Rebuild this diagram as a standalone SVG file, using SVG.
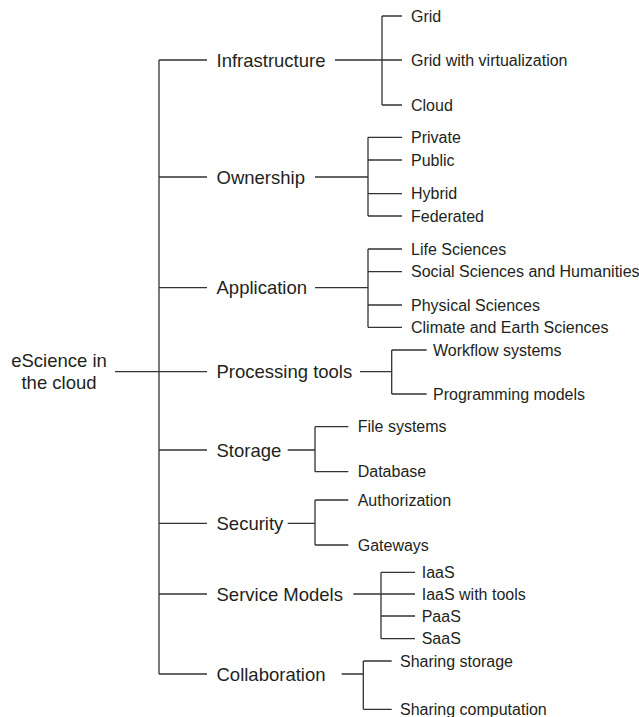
<svg xmlns="http://www.w3.org/2000/svg" width="639" height="717" viewBox="0 0 639 717">
  <style>
    text { font-family: "Liberation Sans", Arial, Helvetica, sans-serif; fill: #231f20; }
    .root { font-size: 18.5px; text-anchor: middle; }
    .cat { font-size: 18.5px; }
    .leaf { font-size: 16px; }
    .edge { fill: none; stroke: #333; stroke-width: 1.3; }
  </style>
  <rect width="639" height="717" fill="#fff"/>

  <!-- connectors -->
  <g id="connectors" class="edge">
    <!-- root to trunk -->
    <path d="M115,371.7 H159"/>
    <!-- trunk and category stubs -->
    <path d="M159,60 V674"/>
    <path d="M159,60 H207 M159,177 H207 M159,287.7 H207 M159,371.7 H207 M159,450 H207 M159,523.3 H207 M159,594 H207 M159,674 H207"/>
    <!-- Infrastructure -->
    <path d="M335,60 H402 M382,16 V105 M382,16 H402 M382,105 H402"/>
    <!-- Ownership -->
    <path d="M315,177 H368 M368,137.3 V216 M368,137.3 H402 M368,160 H402 M368,193.7 H402 M368,216 H402"/>
    <!-- Application -->
    <path d="M315,287.7 H368 M368,249 V327.3 M368,249 H402 M368,271.7 H402 M368,305 H402 M368,327.3 H402"/>
    <!-- Processing tools -->
    <path d="M360,371.7 H391.7 M391.7,350 V394 M391.7,350 H426.7 M391.7,394 H426.7"/>
    <!-- Storage -->
    <path d="M287.7,450 H315 M315,426.7 V471.7 M315,426.7 H348.3 M315,471.7 H348.3"/>
    <!-- Security -->
    <path d="M287.7,523.3 H315 M315,500 V545 M315,500 H348.3 M315,545 H348.3"/>
    <!-- Service Models -->
    <path d="M353.3,594 H415 M381,572.3 V638.7 M381,572.3 H415 M381,616 H415 M381,638.7 H415"/>
    <!-- Collaboration -->
    <path d="M341.7,674 H363.3 M363.3,661 V709.3 M363.3,661 H391.7 M363.3,709.3 H391.7"/>
  </g>

  <g id="root">
    <text class="root" x="59" y="366.7">eScience in</text>
    <text class="root" x="59" y="389">the cloud</text>
  </g>

  <g id="infrastructure">
    <text class="cat" x="216.5" y="66.7">Infrastructure</text>
  </g>
  <g id="infrastructure-items">
    <text class="leaf" x="411" y="21.5">Grid</text>
    <text class="leaf" x="411" y="65.5">Grid with virtualization</text>
    <text class="leaf" x="411" y="110.5">Cloud</text>
  </g>

  <g id="ownership">
    <text class="cat" x="216.5" y="183.7">Ownership</text>
  </g>
  <g id="ownership-items">
    <text class="leaf" x="411" y="142.8">Private</text>
    <text class="leaf" x="411" y="165.5">Public</text>
    <text class="leaf" x="411" y="199.2">Hybrid</text>
    <text class="leaf" x="411" y="221.5">Federated</text>
  </g>

  <g id="application">
    <text class="cat" x="216.5" y="294.4">Application</text>
  </g>
  <g id="application-items">
    <text class="leaf" x="411" y="254.5">Life Sciences</text>
    <text class="leaf" x="411" y="277.2">Social Sciences and Humanities</text>
    <text class="leaf" x="411" y="310.5">Physical Sciences</text>
    <text class="leaf" x="411" y="332.8">Climate and Earth Sciences</text>
  </g>

  <g id="processing-tools">
    <text class="cat" x="216.5" y="378.4">Processing tools</text>
  </g>
  <g id="processing-tools-items">
    <text class="leaf" x="433" y="355.5">Workflow systems</text>
    <text class="leaf" x="433" y="399.5">Programming models</text>
  </g>

  <g id="storage">
    <text class="cat" x="216.5" y="456.7">Storage</text>
  </g>
  <g id="storage-items">
    <text class="leaf" x="357.7" y="432.2">File systems</text>
    <text class="leaf" x="357.7" y="477.2">Database</text>
  </g>

  <g id="security">
    <text class="cat" x="216.5" y="530">Security</text>
  </g>
  <g id="security-items">
    <text class="leaf" x="357.7" y="505.5">Authorization</text>
    <text class="leaf" x="357.7" y="550.5">Gateways</text>
  </g>

  <g id="service-models">
    <text class="cat" x="216.5" y="600.7">Service Models</text>
  </g>
  <g id="service-models-items">
    <text class="leaf" x="421.7" y="577.8">IaaS</text>
    <text class="leaf" x="421.7" y="599.5">IaaS with tools</text>
    <text class="leaf" x="421.7" y="621.5">PaaS</text>
    <text class="leaf" x="421.7" y="644.2">SaaS</text>
  </g>

  <g id="collaboration">
    <text class="cat" x="216.5" y="680.7">Collaboration</text>
  </g>
  <g id="collaboration-items">
    <text class="leaf" x="400" y="666.5">Sharing storage</text>
    <text class="leaf" x="400" y="714.8">Sharing computation</text>
  </g>
</svg>
